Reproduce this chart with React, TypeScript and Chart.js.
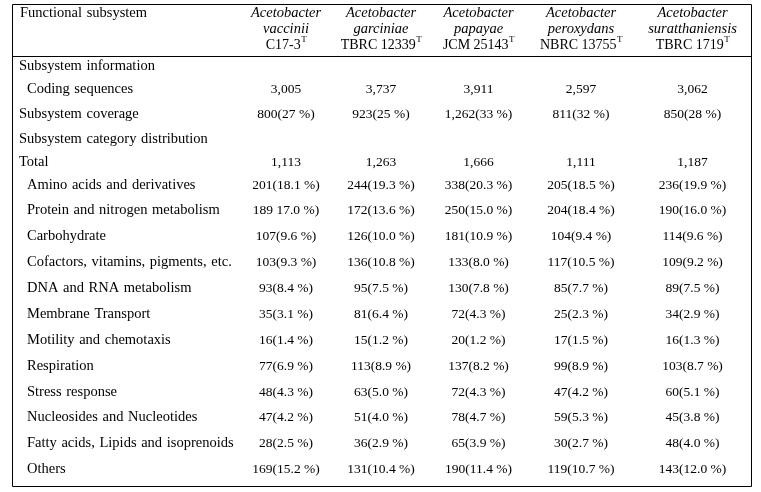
import React, { useEffect, useRef } from "react";
import { Chart, registerables } from "chart.js";

Chart.register(...registerables);

// ---------------- data ----------------
const HEADER_LABEL = "Functional subsystem";
const GENUS = "Acetobacter";
const EPITHETS = ["vaccinii", "garciniae", "papayae", "peroxydans", "suratthaniensis"];
const STRAINS = ["C17-3", "TBRC 12339", "JCM 25143", "NBRC 13755", "TBRC 1719"];
const TYPE_MARK = "T";

const ROW_LABELS = [
  "Subsystem information",
  "Coding sequences",
  "Subsystem coverage",
  "Subsystem category distribution",
  "Total",
  "Amino acids and derivatives",
  "Protein and nitrogen metabolism",
  "Carbohydrate",
  "Cofactors, vitamins, pigments, etc.",
  "DNA and RNA metabolism",
  "Membrane Transport",
  "Motility and chemotaxis",
  "Respiration",
  "Stress response",
  "Nucleosides and Nucleotides",
  "Fatty acids, Lipids and isoprenoids",
  "Others",
];

const VACCINII = ["", "3,005", "800(27 %)", "", "1,113", "201(18.1 %)", "189 17.0 %)", "107(9.6 %)", "103(9.3 %)", "93(8.4 %)", "35(3.1 %)", "16(1.4 %)", "77(6.9 %)", "48(4.3 %)", "47(4.2 %)", "28(2.5 %)", "169(15.2 %)"];
const GARCINIAE = ["", "3,737", "923(25 %)", "", "1,263", "244(19.3 %)", "172(13.6 %)", "126(10.0 %)", "136(10.8 %)", "95(7.5 %)", "81(6.4 %)", "15(1.2 %)", "113(8.9 %)", "63(5.0 %)", "51(4.0 %)", "36(2.9 %)", "131(10.4 %)"];
const PAPAYAE = ["", "3,911", "1,262(33 %)", "", "1,666", "338(20.3 %)", "250(15.0 %)", "181(10.9 %)", "133(8.0 %)", "130(7.8 %)", "72(4.3 %)", "20(1.2 %)", "137(8.2 %)", "72(4.3 %)", "78(4.7 %)", "65(3.9 %)", "190(11.4 %)"];
const PEROXYDANS = ["", "2,597", "811(32 %)", "", "1,111", "205(18.5 %)", "204(18.4 %)", "104(9.4 %)", "117(10.5 %)", "85(7.7 %)", "25(2.3 %)", "17(1.5 %)", "99(8.9 %)", "47(4.2 %)", "59(5.3 %)", "30(2.7 %)", "119(10.7 %)"];
const SURATTHANIENSIS = ["", "3,062", "850(28 %)", "", "1,187", "236(19.9 %)", "190(16.0 %)", "114(9.6 %)", "109(9.2 %)", "89(7.5 %)", "34(2.9 %)", "16(1.3 %)", "103(8.7 %)", "60(5.1 %)", "45(3.8 %)", "48(4.0 %)", "143(12.0 %)"];

const SERIES = [VACCINII, GARCINIAE, PAPAYAE, PEROXYDANS, SURATTHANIENSIS];

// ---------------- layout ----------------
const W = 761;
const H = 492;
const TABLE_LEFT = 12;
const TABLE_TOP = 4;
const COL_WIDTHS = [227, 94, 96, 99, 106, 117];
const HEADER_HEIGHT = 52;
const HEADER_LINE_OFFSETS = [9, 25, 41];
const ROW_HEIGHTS = [21, 24, 26, 24, 22, 24, 26, 26, 26, 26, 26, 26, 26, 26, 25, 26, 26];
const ROW_INDENT = [0, 1, 0, 0, 0, 1, 1, 1, 1, 1, 1, 1, 1, 1, 1, 1, 1];
const BOTTOM_PAD = 4;
const LABEL_PAD = 7;
const INDENT_PX = 8;

const FONT_FAMILY = '"Liberation Serif", "Times New Roman", serif';
const LABEL_FONT = `14.5px ${FONT_FAMILY}`;
const NUM_FONT = `13.5px ${FONT_FAMILY}`;
const HEAD_ITALIC = `italic 14.5px ${FONT_FAMILY}`;
const HEAD_FONT = `14px ${FONT_FAMILY}`;
const SUP_FONT = `9px ${FONT_FAMILY}`;
const LABEL_WORD_SPACING = "1px";
const INK = "#000";

// derived layout
const colEdges: number[] = [TABLE_LEFT];
COL_WIDTHS.forEach((w) => colEdges.push(colEdges[colEdges.length - 1] + w));
const TABLE_RIGHT = colEdges[colEdges.length - 1];
const HEADER_BOTTOM = TABLE_TOP + HEADER_HEIGHT;
const rowEdges: number[] = [HEADER_BOTTOM];
ROW_HEIGHTS.forEach((h) => rowEdges.push(rowEdges[rowEdges.length - 1] + h));
const TABLE_BOTTOM = rowEdges[rowEdges.length - 1] + BOTTOM_PAD;
const rowCenter = (i: number) => (rowEdges[i] + rowEdges[i + 1]) / 2;
const colCenter = (c: number) => (colEdges[c] + colEdges[c + 1]) / 2;

const tablePlugin = {
  id: "tablePlugin",
  afterDatasetsDraw(chart: any) {
    const ctx: any = chart.ctx;
    const xs = chart.scales.x;
    const ys = chart.scales.y;
    ctx.save();
    ctx.fillStyle = INK;
    ctx.textBaseline = "middle";

    // cells from dataset elements
    chart.data.datasets.forEach((ds: any, di: number) => {
      const meta = chart.getDatasetMeta(di);
      meta.data.forEach((el: any, i: number) => {
        const raw = ds.data[i];
        if (!raw.t) return;
        ctx.font = ds.isLabel ? LABEL_FONT : NUM_FONT;
        ctx.wordSpacing = ds.isLabel ? LABEL_WORD_SPACING : "0px";
        ctx.textAlign = ds.isLabel ? "left" : "center";
        ctx.fillText(raw.t, el.x, el.y);
      });
    });
    ctx.wordSpacing = "0px";

    // header
    const hy = HEADER_LINE_OFFSETS.map((o) => ys.getPixelForValue(TABLE_TOP + o));
    ctx.textAlign = "left";
    ctx.font = LABEL_FONT;
    ctx.wordSpacing = LABEL_WORD_SPACING;
    ctx.fillText(HEADER_LABEL, xs.getPixelForValue(TABLE_LEFT + LABEL_PAD + 1), hy[0]);
    ctx.wordSpacing = "0px";
    EPITHETS.forEach((ep, k) => {
      const cx = xs.getPixelForValue(colCenter(k + 1));
      ctx.textAlign = "center";
      ctx.font = HEAD_ITALIC;
      ctx.fillText(GENUS, cx, hy[0]);
      ctx.fillText(ep, cx, hy[1]);
      ctx.font = HEAD_FONT;
      const sw = ctx.measureText(STRAINS[k]).width;
      ctx.font = SUP_FONT;
      const tw = ctx.measureText(TYPE_MARK).width;
      const x0 = cx - (sw + tw) / 2;
      ctx.textAlign = "left";
      ctx.font = HEAD_FONT;
      ctx.fillText(STRAINS[k], x0, hy[2]);
      ctx.font = SUP_FONT;
      ctx.fillText(TYPE_MARK, x0 + sw + 0.5, hy[2] - 5);
    });

    // rules
    ctx.strokeStyle = INK;
    ctx.lineWidth = 1;
    const px = (v: number) => Math.round(xs.getPixelForValue(v)) + 0.5;
    const py = (v: number) => Math.round(ys.getPixelForValue(v)) + 0.5;
    const L = px(TABLE_LEFT), R = px(TABLE_RIGHT), T = py(TABLE_TOP), B = py(TABLE_BOTTOM), M = py(HEADER_BOTTOM);
    ctx.beginPath();
    ctx.moveTo(L, T); ctx.lineTo(R, T);
    ctx.moveTo(L, M); ctx.lineTo(R, M);
    ctx.moveTo(L, B); ctx.lineTo(R, B);
    ctx.moveTo(L, T); ctx.lineTo(L, B);
    ctx.moveTo(R, T); ctx.lineTo(R, B);
    ctx.stroke();
    ctx.restore();
  },
};

export default function App() {
  const ref = useRef<HTMLCanvasElement | null>(null);

  useEffect(() => {
    if (!ref.current) return;
    const labelData = ROW_LABELS.map((t, i) => ({
      x: TABLE_LEFT + LABEL_PAD + ROW_INDENT[i] * INDENT_PX,
      y: rowCenter(i),
      t,
    }));
    const seriesSets = SERIES.map((vals, k) => ({
      label: `${GENUS} ${EPITHETS[k]}`,
      data: vals.map((t, i) => ({ x: colCenter(k + 1), y: rowCenter(i), t })),
      pointRadius: 0,
      showLine: false,
    }));
    const chart = new Chart(ref.current, {
      type: "scatter",
      data: {
        datasets: [
          { label: HEADER_LABEL, data: labelData, pointRadius: 0, showLine: false, isLabel: true } as any,
          ...seriesSets,
        ],
      },
      options: {
        animation: false,
        responsive: false,
        events: [],
        layout: { padding: 0 },
        plugins: { legend: { display: false }, tooltip: { enabled: false } },
        scales: {
          x: { type: "linear", min: 0, max: W, display: false },
          y: { type: "linear", min: 0, max: H, reverse: true, display: false },
        },
      },
      plugins: [tablePlugin],
    });
    return () => chart.destroy();
  }, []);

  return (
    <div style={{ position: "fixed", left: 0, top: 0, width: W, height: H, background: "#fff" }}>
      <canvas ref={ref} width={W} height={H} style={{ display: "block" }} />
    </div>
  );
}
